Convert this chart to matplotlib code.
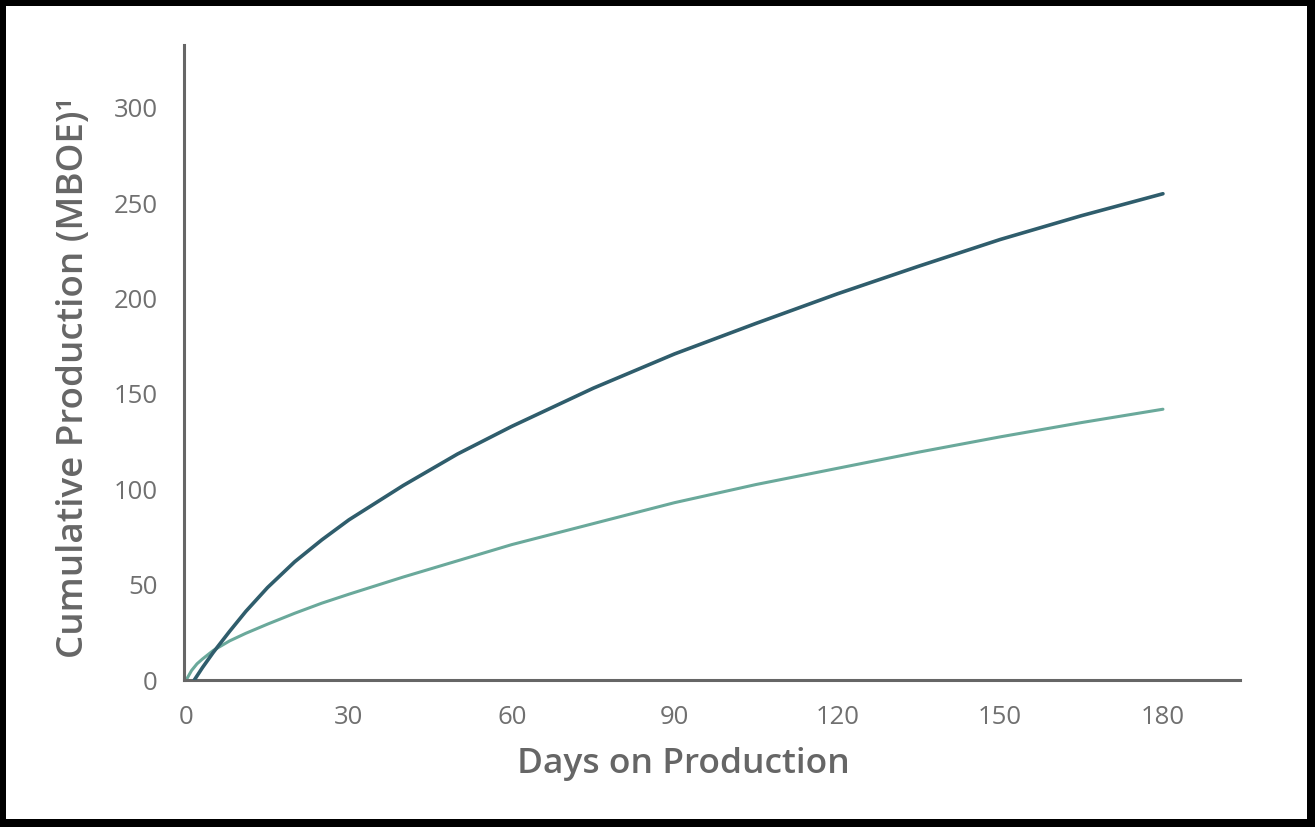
import numpy as np
import matplotlib
matplotlib.use("Agg")
import matplotlib.pyplot as plt
from matplotlib.patches import Rectangle

# values
days_dark = [1.5, 3, 5, 8, 11, 15, 20, 25, 30, 40, 50, 60, 75, 90, 105, 120, 135, 150, 165, 180]
cum_dark = [0, 6.5, 14.5, 25.5, 36, 48.5, 62, 73.5, 84, 102, 118.5, 133, 153, 171, 187, 202.5, 217, 231, 243.5, 255]

days_light = [0, 1, 2, 3, 5, 8, 11, 15, 20, 25, 30, 40, 50, 60, 75, 90, 105, 120, 135, 150, 165, 180]
cum_light = [0, 5, 8.5, 11, 15.5, 20.5, 24.5, 29.3, 35, 40.3, 45, 54, 62.5, 71, 82, 93, 102.5, 111, 119.5, 127.5, 135, 142]

xticks = [0, 30, 60, 90, 120, 150, 180]
yticks = [0, 50, 100, 150, 200, 250, 300]

grey = '#707070'
plt.rcParams['font.family'] = ['Open Sans', 'DejaVu Sans']

fig = plt.figure(figsize=(13.15, 8.27), dpi=100)
fig.patch.set_facecolor('black')
# white card inside the black frame
fig.patches.append(Rectangle((6/1315, 8/827), 1301/1315, 813/827,
                             transform=fig.transFigure, facecolor='white',
                             edgecolor='none', zorder=-10))

ax = fig.add_axes([184/1315, 147/827, 1056/1315, 635/827])
ax.set_facecolor('none')

ax.plot(days_dark, cum_dark, color='#2f5d6c', lw=2.6, solid_capstyle='round', zorder=3)
ax.plot(days_light, cum_light, color='#6aa99b', lw=2.2, solid_capstyle='round', zorder=2)

ax.set_xlim(-0.4, 194.2)
ax.set_ylim(0, 333)
ax.set_xticks(xticks)
ax.set_yticks(yticks)

for s in ['top', 'right']:
    ax.spines[s].set_visible(False)
for s in ['left', 'bottom']:
    ax.spines[s].set_color('#666666')
    ax.spines[s].set_linewidth(2.2)

ax.tick_params(length=0, colors=grey, labelsize=18.5)
ax.tick_params(axis='y', pad=19)
ax.tick_params(axis='x', pad=18)

ax.set_xlabel('Days on Production', fontsize=25.5, color='#666666', fontweight='semibold')
ax.set_ylabel('Cumulative Production (MBOE)\u00b9', fontsize=26.5, color='#666666',
              fontweight='semibold')
ax.xaxis.set_label_coords(0.4725, -0.106)
ax.yaxis.set_label_coords(-0.087, 0.4756)

fig.savefig('out.png', dpi=100, facecolor=fig.get_facecolor())
